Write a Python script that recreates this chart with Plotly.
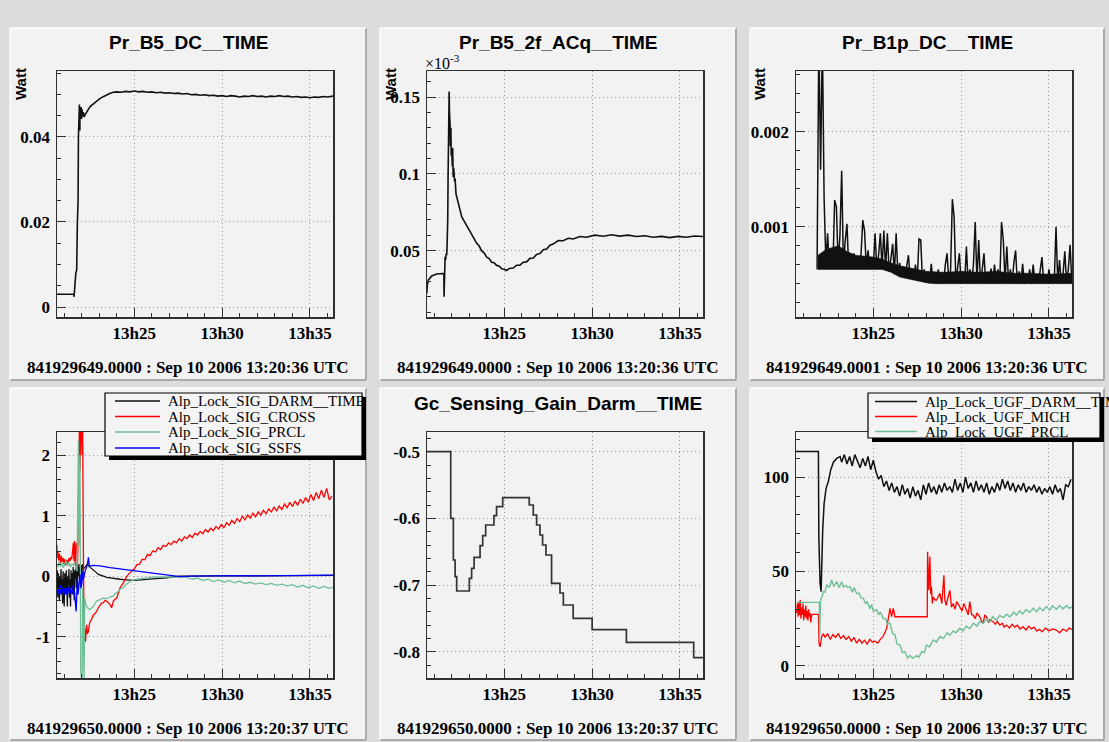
import plotly.graph_objects as go

# ---------------- data (time in minutes after 13:00) ----------------
TICK_PREFIX = "13h"
X_RANGE = [20.6, 36.31]

TITLES = ["Pr_B5_DC__TIME", "Pr_B5_2f_ACq__TIME", "Pr_B1p_DC__TIME",
          "", "Gc_Sensing_Gain_Darm__TIME", ""]
FOOTERS = ["841929649.0000 : Sep 10 2006 13:20:36 UTC",
           "841929649.0000 : Sep 10 2006 13:20:36 UTC",
           "841929649.0001 : Sep 10 2006 13:20:36 UTC",
           "841929650.0000 : Sep 10 2006 13:20:37 UTC",
           "841929650.0000 : Sep 10 2006 13:20:37 UTC",
           "841929650.0000 : Sep 10 2006 13:20:37 UTC"]
Y_UNIT = "Watt"

# Panel 1: Pr_B5_DC (Watt)
B5_DC = [(20.6, 0.003), (21.55, 0.003), (21.57, 0.0024), (21.6, 0.0055), (21.63, 0.0058),
         (21.68, 0.0082), (21.72, 0.0086), (21.76, 0.02), (21.8, 0.025), (21.82, 0.04),
         (21.85, 0.046), (21.875, 0.0476), (21.9, 0.0415), (21.91, 0.047), (21.94, 0.0445),
         (21.97, 0.047), (22.0, 0.0442), (22.03, 0.0465), (22.06, 0.0448), (22.1, 0.0458),
         (22.15, 0.0447), (22.2, 0.0452), (22.3, 0.046), (22.4, 0.0466), (22.5, 0.0472),
         (22.65, 0.0477), (22.8, 0.0484), (23.0, 0.0489), (23.2, 0.0494), (23.4, 0.0499),
         (23.6, 0.0502), (23.8, 0.0505), (24.0, 0.0506), (24.25, 0.0505), (24.5, 0.0507),
         (24.75, 0.0506), (25.0, 0.0508), (25.25, 0.0506), (25.5, 0.0507), (25.75, 0.0505),
         (26.0, 0.0506), (26.25, 0.0504), (26.5, 0.0505), (26.75, 0.0503), (27.0, 0.0504),
         (27.25, 0.0502), (27.5, 0.0503), (27.75, 0.0501), (28.0, 0.0502), (28.25, 0.0499),
         (28.5, 0.0500), (28.75, 0.0498), (29.0, 0.0499), (29.25, 0.0497), (29.5, 0.0498),
         (29.75, 0.0496), (30.0, 0.0497), (30.25, 0.0495), (30.5, 0.0497), (30.75, 0.0496),
         (31.0, 0.0494), (31.25, 0.0496), (31.5, 0.0495), (31.75, 0.0497), (32.0, 0.0495),
         (32.25, 0.0496), (32.5, 0.0494), (32.75, 0.0496), (33.0, 0.0495), (33.25, 0.0497),
         (33.5, 0.0495), (33.75, 0.0496), (34.0, 0.0494), (34.25, 0.0495), (34.5, 0.0493),
         (34.75, 0.0494), (35.0, 0.0492), (35.25, 0.0494), (35.5, 0.0493), (35.75, 0.0495),
         (36.0, 0.0494), (36.31, 0.0496)]

# Panel 2: Pr_B5_2f_ACq (x10^-3 Watt)
B5_2F = [(20.59, 0.0222), (20.62, 0.028), (20.68, 0.0309), (20.78, 0.0325), (20.87, 0.0335),
         (21.0, 0.0342), (21.16, 0.0348), (21.35, 0.035), (21.53, 0.0352), (21.56, 0.0352),
         (21.57, 0.020), (21.60, 0.030), (21.63, 0.046), (21.66, 0.044), (21.69, 0.048),
         (21.72, 0.047), (21.74, 0.0526), (21.78, 0.07), (21.80, 0.098), (21.83, 0.12),
         (21.86, 0.1537), (21.88, 0.14), (21.91, 0.133), (21.93, 0.118), (21.96, 0.13),
         (21.98, 0.112), (22.01, 0.115), (22.04, 0.105), (22.06, 0.117), (22.09, 0.098),
         (22.12, 0.104), (22.14, 0.1), (22.17, 0.095), (22.2, 0.097), (22.25, 0.087),
         (22.3, 0.085), (22.39, 0.080), (22.48, 0.0765), (22.58, 0.072), (22.7, 0.0695),
         (22.86, 0.0657), (23.0, 0.0632), (23.14, 0.0598), (23.28, 0.0578), (23.43, 0.0548),
         (23.57, 0.0530), (23.71, 0.0498), (23.86, 0.0484), (24.0, 0.0458), (24.14, 0.0449),
         (24.28, 0.0425), (24.42, 0.0421), (24.56, 0.0404), (24.7, 0.0401), (24.85, 0.0382),
         (25.0, 0.0379), (25.13, 0.0371), (25.32, 0.0386), (25.51, 0.0387), (25.7, 0.0405),
         (25.89, 0.0406), (26.08, 0.0425), (26.27, 0.0427), (26.46, 0.0450), (26.65, 0.0452),
         (26.84, 0.0476), (27.03, 0.0482), (27.22, 0.0506), (27.41, 0.0510), (27.6, 0.0536),
         (27.78, 0.0543), (28.07, 0.0566), (28.35, 0.0565), (28.64, 0.0581), (28.92, 0.0576),
         (29.3, 0.0592), (29.68, 0.0587), (30.15, 0.0601), (30.63, 0.0594), (31.1, 0.0604),
         (31.57, 0.0595), (32.05, 0.0601), (32.52, 0.0592), (33.0, 0.0597), (33.47, 0.0587),
         (33.94, 0.0593), (34.41, 0.0585), (34.9, 0.0593), (35.36, 0.0587), (35.83, 0.0595),
         (36.31, 0.0592)]

# Panel 3: Pr_B1p_DC (mW), one sample every 0.1 min from 21.8
B1P_T0, B1P_DT = 21.8, 0.1
B1P_MW = [0.55, 3.0, 1.6, 3.0, 1.3, 0.62, 0.93, 0.57, 0.75, 0.56,
          1.28, 1.21, 0.60, 0.90, 1.59, 0.58, 0.85, 1.03, 0.57, 0.68,
          0.56, 0.72, 0.57, 0.66, 0.56, 0.70, 1.07, 0.96, 0.58, 0.75,
          0.56, 0.68, 0.57, 0.93, 0.56, 0.70, 0.93, 0.56, 0.96, 0.55,
          0.93, 0.53, 0.66, 0.82, 0.50, 0.93, 0.49, 0.62, 0.47, 0.58,
          0.46, 0.60, 0.70, 0.45, 0.56, 0.44, 0.60, 0.43, 0.87, 0.86,
          0.42, 0.55, 0.41, 0.52, 0.40, 0.61, 0.41, 0.50, 0.40, 0.55,
          0.40, 0.52, 0.41, 0.60, 0.72, 0.41, 0.55, 1.29, 1.10, 0.42,
          0.55, 0.72, 0.40, 0.52, 0.41, 0.79, 0.40, 0.55, 0.41, 0.60,
          1.05, 0.42, 0.86, 0.41, 0.55, 0.72, 0.40, 0.52, 0.41, 0.56,
          0.40, 0.60, 0.41, 0.55, 0.42, 1.05, 0.86, 0.42, 0.79, 0.41,
          0.55, 0.40, 0.62, 0.75, 0.40, 0.53, 0.41, 0.61, 0.40, 0.50,
          0.41, 0.55, 0.40, 0.60, 0.41, 0.50, 0.40, 0.52, 0.68, 0.41,
          0.50, 0.40, 0.55, 0.41, 0.50, 0.42, 1.00, 0.41, 0.65, 0.40,
          0.50, 0.74, 0.41, 0.55, 0.81, 0.42]
# dense noise band of the same signal (lower / upper envelope, mW)
B1P_BAND_LOW = [(21.85, 0.55), (22.3, 0.55), (25.5, 0.55), (26.0, 0.52), (26.5, 0.47), (27.0, 0.45),
                (27.5, 0.43), (28.0, 0.41), (28.5, 0.40), (36.31, 0.40)]
B1P_BAND_HIGH = [(21.85, 0.70), (22.3, 0.76), (23.0, 0.80), (23.5, 0.74), (24.0, 0.70), (25.0, 0.68),
                 (25.5, 0.66), (26.0, 0.62), (26.5, 0.59), (27.0, 0.57), (27.5, 0.55), (28.0, 0.53),
                 (29.0, 0.52), (30.0, 0.53), (31.0, 0.52), (32.0, 0.53), (33.0, 0.51), (34.0, 0.51),
                 (35.0, 0.50), (36.31, 0.51)]

# Panel 4: Alp_Lock_SIG_*
SIG_NAMES = ["Alp_Lock_SIG_DARM__TIME", "Alp_Lock_SIG_CROSS", "Alp_Lock_SIG_PRCL", "Alp_Lock_SIG_SSFS"]
SIG_DARM = [(20.59, -0.1), (20.62, 0.1), (20.65, -0.35), (20.68, 0.05), (20.71, -0.2), (20.74, -0.4),
            (20.77, 0.0), (20.80, -0.15), (20.83, 0.12), (20.86, -0.3), (20.89, -0.05), (20.92, -0.45),
            (20.95, 0.08), (20.98, -0.2), (21.01, -0.5), (21.04, 0.05), (21.07, -0.12), (21.10, -0.3),
            (21.13, 0.1), (21.16, -0.25), (21.19, -0.5), (21.22, 0.0), (21.25, -0.15), (21.28, 0.12),
            (21.31, -0.35), (21.34, -0.05), (21.37, -0.5), (21.40, 0.1), (21.43, -0.2), (21.46, 0.05),
            (21.49, -0.3), (21.52, 0.15), (21.55, -0.1), (21.58, -0.4), (21.61, 0.1), (21.64, -0.05),
            (21.67, 0.2), (21.70, -0.2), (21.73, 0.15), (21.76, -0.1), (21.79, 0.18), (21.82, 0.0),
            (21.85, 0.2), (21.88, -0.05), (21.91, 0.15), (21.94, 0.05), (21.97, 0.18), (22.0, -0.1),
            (22.05, 0.2), (22.1, 0.12), (22.2, 0.15), (22.29, 0.19), (22.33, 0.2), (22.39, 0.17),
            (22.48, 0.15), (22.58, 0.13), (22.67, 0.1), (22.76, 0.08), (22.86, 0.055), (22.95, 0.03),
            (23.05, 0.015), (23.24, 0.0), (23.43, -0.02), (23.62, -0.03), (23.81, -0.04), (24.0, -0.045),
            (24.19, -0.05), (24.38, -0.055), (24.56, -0.06), (24.75, -0.065), (24.94, -0.07), (25.2, -0.065),
            (25.5, -0.055), (25.8, -0.045), (26.1, -0.04), (26.4, -0.035), (26.7, -0.03), (27.0, -0.02),
            (27.3, -0.01), (27.6, 0.0), (28.0, 0.0), (29.0, 0.005), (30.0, 0.0), (31.0, 0.01),
            (32.0, 0.005), (33.0, 0.01), (34.0, 0.005), (35.0, 0.01), (36.31, 0.015)]
SIG_CROSS_EARLY = [(20.59, 0.52), (20.62, 0.30), (20.66, 0.40), (20.70, 0.26), (20.75, 0.37), (20.80, 0.22),
                   (20.85, 0.33), (20.90, 0.24), (20.95, 0.30), (21.00, 0.20), (21.05, 0.28), (21.10, 0.18),
                   (21.16, 0.27), (21.22, 0.21), (21.28, 0.30), (21.34, 0.25), (21.40, 0.32), (21.44, 0.28),
                   (21.50, 0.45), (21.53, 0.55), (21.57, 0.25), (21.60, 0.58), (21.63, 0.19), (21.67, 0.50),
                   (21.72, 0.55), (21.76, 0.14), (21.80, 0.6), (21.84, 1.5), (21.875, 2.5), (21.91, 1.74),
                   (21.95, 2.5), (21.99, 2.45), (22.03, 2.0), (22.06, 2.5), (22.10, 0.5), (22.14, -0.91),
                   (22.18, -0.85), (22.22, -1.08), (22.26, -0.9), (22.29, -0.8), (22.33, -0.95), (22.39, -0.91),
                   (22.44, -0.8), (22.48, -0.75), (22.55, -0.72), (22.62, -0.66), (22.67, -0.64), (22.75, -0.62),
                   (22.86, -0.58), (22.95, -0.52), (23.05, -0.47), (23.15, -0.44), (23.24, -0.44), (23.33, -0.40),
                   (23.43, -0.41), (23.52, -0.44), (23.62, -0.47), (23.71, -0.52), (23.76, -0.45), (23.81, -0.41),
                   (23.90, -0.38), (24.0, -0.36), (24.09, -0.28), (24.19, -0.19), (24.28, -0.15), (24.38, -0.11),
                   (24.47, -0.05), (24.56, 0.0), (24.66, 0.03), (24.75, 0.055), (24.85, 0.09), (24.94, 0.11)]
SIG_CROSS_T0, SIG_CROSS_DT = 25.0, 0.15
SIG_CROSS_LATE = [0.12, 0.19, 0.20, 0.28, 0.27, 0.36, 0.34, 0.42, 0.40, 0.47,
                  0.44, 0.51, 0.49, 0.55, 0.52, 0.58, 0.55, 0.62, 0.58, 0.65,
                  0.62, 0.68, 0.64, 0.71, 0.68, 0.74, 0.70, 0.77, 0.73, 0.79,
                  0.75, 0.82, 0.78, 0.85, 0.80, 0.88, 0.84, 0.92, 0.87, 0.95,
                  0.90, 0.99, 0.93, 1.01, 0.96, 1.04, 0.98, 1.06, 1.01, 1.09,
                  1.03, 1.11, 1.06, 1.14, 1.08, 1.16, 1.10, 1.19, 1.13, 1.22,
                  1.15, 1.24, 1.17, 1.27, 1.20, 1.30, 1.22, 1.35, 1.25, 1.38,
                  1.28, 1.42, 1.30, 1.45, 1.26, 1.32]
SIG_PRCL = [(20.59, 0.2), (20.65, 0.15), (20.72, 0.24), (20.8, 0.16), (20.88, 0.22), (20.96, 0.14),
            (21.04, 0.2), (21.12, 0.25), (21.2, 0.17), (21.28, 0.22), (21.36, 0.15), (21.44, 0.2),
            (21.52, 0.18), (21.6, 0.22), (21.68, 0.12), (21.74, 0.08), (21.78, 1.2), (21.8, 1.6),
            (21.82, 2.24), (21.85, 0.5), (21.875, 1.19), (21.91, 2.0), (21.95, -1.57), (21.99, -1.75),
            (22.03, -1.75), (22.06, -0.19), (22.1, -1.0), (22.14, -1.75), (22.18, -0.36), (22.25, -0.47),
            (22.33, -0.52), (22.48, -0.55), (22.58, -0.52), (22.67, -0.5), (22.76, -0.45), (22.86, -0.41),
            (22.95, -0.40), (23.05, -0.39), (23.15, -0.37), (23.24, -0.36), (23.33, -0.37), (23.52, -0.36),
            (23.62, -0.34), (23.81, -0.33), (23.9, -0.29), (24.1, -0.25), (24.2, -0.21), (24.38, -0.19),
            (24.47, -0.15), (24.66, -0.11), (24.8, -0.08), (25.0, -0.055), (25.3, -0.04), (25.5, -0.03),
            (26.0, -0.015), (26.3, -0.01), (27.0, -0.01), (27.4, -0.01), (28.0, -0.02), (28.3, -0.05),
            (28.6, -0.03), (28.9, -0.07), (29.2, -0.05), (29.5, -0.09), (29.8, -0.06), (30.1, -0.1),
            (30.4, -0.07), (30.7, -0.11), (31.0, -0.08), (31.3, -0.12), (31.6, -0.1), (31.9, -0.13),
            (32.2, -0.11), (32.5, -0.14), (32.8, -0.12), (33.1, -0.15), (33.4, -0.13), (33.7, -0.16),
            (34.0, -0.14), (34.3, -0.18), (34.6, -0.15), (34.9, -0.19), (35.2, -0.16), (35.5, -0.2),
            (35.8, -0.17), (36.1, -0.2), (36.31, -0.18)]
SIG_SSFS = [(20.59, -0.25), (20.63, -0.18), (20.67, -0.3), (20.71, -0.2), (20.75, -0.28), (20.79, -0.15),
            (20.83, -0.3), (20.87, -0.22), (20.91, -0.27), (20.95, -0.18), (20.99, -0.32), (21.03, -0.2),
            (21.07, -0.26), (21.11, -0.19), (21.15, -0.3), (21.19, -0.22), (21.23, -0.28), (21.27, -0.17),
            (21.31, -0.25), (21.35, -0.2), (21.39, -0.3), (21.43, -0.22), (21.47, -0.27), (21.51, -0.15),
            (21.55, -0.3), (21.6, -0.25), (21.65, -0.45), (21.69, -0.58), (21.72, -0.36), (21.76, -0.03),
            (21.8, -0.3), (21.85, -0.19), (21.91, 0.03), (21.96, -0.2), (22.01, -0.14), (22.06, 0.08),
            (22.1, -0.05), (22.2, 0.08), (22.29, 0.15), (22.33, 0.19), (22.39, 0.31), (22.41, 0.22),
            (22.44, 0.17), (22.67, 0.18), (23.05, 0.17), (23.62, 0.14), (24.19, 0.12), (24.94, 0.094),
            (25.7, 0.066), (26.46, 0.04), (27.03, 0.011), (27.6, -0.006), (28.2, 0.0), (29.0, 0.005),
            (30.0, 0.0), (31.0, 0.01), (32.0, 0.005), (33.0, 0.012), (34.0, 0.008), (35.0, 0.015),
            (36.31, 0.017)]

# Panel 5: Gc_Sensing_Gain_Darm (step values)
GAIN_DARM = [(20.59, -0.5), (21.95, -0.6), (22.10, -0.6625), (22.20, -0.6875), (22.29, -0.709),
             (23.01, -0.69), (23.14, -0.675), (23.28, -0.6585), (23.62, -0.641), (23.77, -0.626),
             (23.94, -0.61), (24.41, -0.596), (24.56, -0.5825), (24.91, -0.569), (26.42, -0.58),
             (26.65, -0.595), (26.84, -0.61), (27.03, -0.625), (27.18, -0.64), (27.37, -0.655),
             (27.69, -0.6975), (28.17, -0.712), (28.36, -0.73), (28.92, -0.75), (30.0, -0.767),
             (31.95, -0.786), (35.78, -0.809), (36.31, -0.809)]

# Panel 6: Alp_Lock_UGF_*
UGF_NAMES = ["Alp_Lock_UGF_DARM__TIME", "Alp_Lock_UGF_MICH", "Alp_Lock_UGF_PRCL"]
UGF_DARM_EARLY = [(20.6, 113.6), (21.875, 113.6), (21.9, 68.5), (21.97, 43.7), (22.03, 39.3),
                  (22.06, 50.8), (22.12, 72), (22.2, 86), (22.31, 94), (22.44, 97.7), (22.58, 104),
                  (22.73, 108), (22.92, 110), (23.11, 111)]
UGF_DARM_T0, UGF_DARM_DT = 23.2, 0.15
UGF_DARM_LATE = [108, 112, 107, 111, 106, 112, 108, 105, 110, 106,
                 111, 104, 109, 103, 99, 101, 95, 98, 93, 97,
                 92, 95, 90, 96, 91, 94, 89, 95, 90, 93,
                 88, 96, 91, 97, 92, 95, 91, 96, 92, 97,
                 93, 95, 92, 99, 93, 97, 92, 100, 94, 97,
                 92, 98, 93, 96, 92, 97, 91, 95, 92, 97,
                 93, 99, 94, 98, 93, 97, 92, 96, 93, 97,
                 92, 95, 93, 96, 92, 95, 91, 94, 92, 95,
                 91, 96, 92, 94, 88, 96, 95, 99]
UGF_MICH = [(20.64, 28), (20.68, 33), (20.72, 26), (20.76, 34), (20.80, 27), (20.84, 35), (20.88, 25),
            (20.92, 31), (20.96, 27), (21.0, 33), (21.04, 24), (21.08, 30), (21.12, 26), (21.16, 32),
            (21.2, 25), (21.24, 29), (21.28, 24), (21.32, 30), (21.36, 26), (21.40, 28), (21.44, 23),
            (21.48, 27), (21.5, 27.3), (21.875, 27.3), (21.91, 11.9), (21.97, 10), (22.06, 15.4),
            (22.16, 17), (22.25, 15), (22.40, 17), (22.55, 14), (22.70, 16.5), (22.85, 15), (23.00, 17),
            (23.15, 14.5), (23.30, 16), (23.45, 14), (23.60, 15.5), (23.75, 13), (23.90, 15), (24.05, 12),
            (24.20, 14), (24.35, 12), (24.50, 13.5), (24.65, 11.5), (24.80, 14), (24.95, 12.5), (25.10, 13),
            (25.25, 12), (25.40, 14), (25.55, 15.4), (25.76, 19.8), (25.95, 30.4), (26.04, 26),
            (26.14, 30.4), (26.23, 26), (26.33, 26), (28.07, 26), (28.09, 60.5), (28.16, 40),
            (28.22, 57.9), (28.27, 38), (28.31, 42), (28.36, 33), (28.41, 36.6), (28.5, 35),
            (28.6, 34.9), (28.7, 37), (28.79, 38.4), (28.9, 33), (29.02, 48), (29.07, 34.9), (29.15, 32),
            (29.26, 36.6), (29.36, 40), (29.45, 31), (29.55, 33), (29.65, 30), (29.75, 34), (29.92, 31.3),
            (30.05, 29), (30.15, 33), (30.30, 29.6), (30.4, 27), (30.49, 34), (30.6, 27), (30.68, 27),
            (30.8, 25), (30.9, 28), (31.06, 26), (31.15, 24), (31.25, 22.5), (31.35, 27), (31.44, 26),
            (31.55, 23), (31.63, 24.5), (31.82, 23.4), (31.95, 22), (32.05, 23.5), (32.20, 21.6),
            (32.35, 22.5), (32.45, 20.5), (32.58, 21.6), (32.75, 20), (32.9, 22), (33.05, 20.5),
            (33.2, 21.5), (33.35, 19.5), (33.52, 20.7), (33.7, 19), (33.85, 21), (34.0, 19.5),
            (34.15, 20.5), (34.3, 18.5), (34.47, 19.3), (34.6, 18), (34.8, 20), (35.0, 18.5),
            (35.2, 19.5), (35.42, 18.9), (35.6, 17.5), (35.8, 19.5), (36.0, 18.3), (36.15, 20), (36.3, 19.3)]
UGF_PRCL = [(20.64, 33.6), (21.93, 33.6), (21.94, 13.3), (21.96, 30), (22.0, 35), (22.1, 37),
            (22.16, 39.5), (22.25, 39), (22.35, 43), (22.5, 41.5), (22.63, 45.5), (22.75, 42),
            (22.92, 44.7), (23.05, 41.5), (23.2, 44.5), (23.3, 41.8), (23.45, 42.5), (23.55, 41.5),
            (23.67, 42), (23.8, 39), (23.9, 41.5), (24.05, 38.3), (24.2, 38.5), (24.3, 36),
            (24.43, 35.9), (24.55, 33), (24.65, 34), (24.81, 30.3), (24.9, 32.5), (25.0, 29),
            (25.19, 29.7), (25.3, 27), (25.4, 28.5), (25.57, 25), (25.7, 25), (25.8, 22),
            (25.95, 22.6), (26.1, 17), (26.23, 16.4), (26.35, 11.5), (26.52, 11), (26.65, 7),
            (26.8, 7.5), (26.95, 4), (27.08, 5.4), (27.25, 4), (27.46, 5.4), (27.6, 4.5),
            (27.75, 7.5), (27.9, 7), (28.03, 11), (28.2, 10), (28.41, 13.7), (28.6, 12.5),
            (28.79, 15.5), (29.0, 14.5), (29.2, 17.5), (29.36, 16.2), (29.55, 18.5), (29.7, 17.5),
            (29.92, 19.9), (30.1, 18.5), (30.3, 21), (30.49, 19.7), (30.7, 22.5), (30.9, 21),
            (31.06, 23.5), (31.25, 22.5), (31.44, 24.8), (31.63, 23.2), (31.8, 26), (32.0, 24.2),
            (32.2, 26.7), (32.4, 25.5), (32.58, 27.3), (32.77, 25.9), (33.0, 28.5), (33.15, 26.8),
            (33.33, 29.1), (33.5, 27.5), (33.7, 29.8), (33.9, 28.2), (34.1, 30.5), (34.3, 28.7),
            (34.47, 30.9), (34.65, 29.2), (34.85, 31.4), (35.04, 29.5), (35.2, 31.8), (35.42, 30),
            (35.6, 31.8), (35.8, 30.2), (36.0, 32), (36.15, 30.5), (36.3, 31.3)]

# y-axis setups (range, tick values, tick texts, minor step)
Y_AXES = [
    dict(range=[-0.00235, 0.0555], tickvals=[0, 0.02, 0.04], ticktext=["0", "0.02", "0.04"], minor=0.005),
    dict(range=[0.0068, 0.167], tickvals=[0.05, 0.1, 0.15], ticktext=["0.05", "0.1", "0.15"], minor=0.01),
    dict(range=[0.000049, 0.00264], tickvals=[0.001, 0.002], ticktext=["0.001", "0.002"], minor=0.0002),
    dict(range=[-1.68, 2.38], tickvals=[-1, 0, 1, 2], ticktext=["-1", "0", "1", "2"], minor=0.2),
    dict(range=[-0.8395, -0.4705], tickvals=[-0.8, -0.7, -0.6, -0.5],
         ticktext=["-0.8", "-0.7", "-0.6", "-0.5"], minor=0.02),
    dict(range=[-6.5, 124], tickvals=[0, 50, 100], ticktext=["0", "50", "100"], minor=10),
]

# ---------------- layout geometry (pixels) ----------------
W, H = 1109, 742
def px(x):
    return x / W
def py(y):
    return 1 - y / H

COLS = [(57, 333), (427, 703), (796, 1072)]
ROWS = [(71, 317), (432, 678)]
PANEL_X = [(10, 366), (380, 736), (750, 1104)]
PANEL_Y = [(28, 380), (388, 740)]
TITLE_Y = [43, 403]
FOOT_Y = [367, 728]

BLACK = "#111111"
RED = "#ff0000"
GREEN = "#6fbf96"
BLUE = "#0000ff"

fig = go.Figure()

def unzip(pairs):
    return [p[0] for p in pairs], [p[1] for p in pairs]

def grid_times(t0, dt, n):
    return [round(t0 + dt * i, 3) for i in range(n)]

def axn(k):
    return "" if k == 1 else str(k)

def add(k, x, y, color, width=1.3, shape="linear", **kw):
    fig.add_trace(go.Scatter(x=x, y=y, mode="lines", xaxis="x" + axn(k), yaxis="y" + axn(k),
                             line=dict(color=color, width=width, shape=shape),
                             showlegend=False, hoverinfo="skip", **kw))

t, v = unzip(B5_DC); add(1, t, v, BLACK, 1.6)
t, v = unzip(B5_2F); add(2, t, v, BLACK, 1.6)
# panel 3: noise band (filled between envelopes) + sample trace
tl, vl = unzip(B1P_BAND_LOW)
th, vh = unzip(B1P_BAND_HIGH)
add(3, tl + th[::-1], [m * 1e-3 for m in vl + vh[::-1]], BLACK, 0.5, fill="toself", fillcolor=BLACK)
add(3, grid_times(B1P_T0, B1P_DT, len(B1P_MW)), [m * 1e-3 for m in B1P_MW], BLACK, 1.5)

t, v = unzip(SIG_DARM); add(4, t, v, BLACK, 1.3)
t, v = unzip(SIG_CROSS_EARLY)
add(4, t + grid_times(SIG_CROSS_T0, SIG_CROSS_DT, len(SIG_CROSS_LATE)), v + SIG_CROSS_LATE, RED, 1.3)
t, v = unzip(SIG_PRCL); add(4, t, v, GREEN, 1.3)
t, v = unzip(SIG_SSFS); add(4, t, v, BLUE, 1.3)

t, v = unzip(GAIN_DARM); add(5, t, v, "#333333", 1.7, "hv")

t, v = unzip(UGF_DARM_EARLY)
add(6, t + grid_times(UGF_DARM_T0, UGF_DARM_DT, len(UGF_DARM_LATE)), v + UGF_DARM_LATE, BLACK, 1.5)
t, v = unzip(UGF_MICH); add(6, t, v, RED, 1.3)
t, v = unzip(UGF_PRCL); add(6, t, v, GREEN, 1.4)

AXC = "#303030"
GRIDC = "#9a9a9a"
tickfont = dict(family="Liberation Serif", size=17, color="black", weight="bold")
layout = dict(width=W, height=H, margin=dict(l=0, r=0, t=0, b=0), autosize=False,
              paper_bgcolor="#dcdcdc", plot_bgcolor="rgba(0,0,0,0)", showlegend=False)

for k in range(1, 7):
    r, c = (k - 1) // 3, (k - 1) % 3
    sx = axn(k)
    ya = Y_AXES[k - 1]
    layout["xaxis" + sx] = dict(
        domain=[px(COLS[c][0]), px(COLS[c][1])], anchor="y" + sx, range=X_RANGE,
        tickmode="linear", tick0=0, dtick=5, tickprefix=TICK_PREFIX,
        ticks="inside", ticklen=9, tickwidth=1, tickcolor=AXC,
        showline=True, linecolor=AXC, linewidth=1.5, mirror=True,
        showgrid=True, gridcolor=GRIDC, griddash="1px,3px", gridwidth=1, zeroline=False,
        minor=dict(tickmode="linear", tick0=0, dtick=1, ticks="inside", ticklen=4,
                   tickwidth=1, tickcolor=AXC, showgrid=False),
        tickfont=tickfont, fixedrange=True)
    layout["yaxis" + sx] = dict(
        domain=[py(ROWS[r][1]), py(ROWS[r][0])], anchor="x" + sx, range=ya["range"],
        tickmode="array", tickvals=ya["tickvals"], ticktext=ya["ticktext"],
        ticks="inside", ticklen=9, tickwidth=1, tickcolor=AXC,
        showline=True, linecolor=AXC, linewidth=1.5, mirror=True,
        showgrid=True, gridcolor=GRIDC, griddash="1px,3px", gridwidth=1, zeroline=False,
        minor=dict(tickmode="linear", tick0=0, dtick=ya["minor"], ticks="inside", ticklen=4,
                   tickwidth=1, tickcolor=AXC, showgrid=False),
        tickfont=tickfont, ticklabelstandoff=2, fixedrange=True)

shapes = []
annotations = []
for k in range(6):
    r, c = k // 3, k % 3
    x0, x1 = PANEL_X[c]
    y0, y1 = PANEL_Y[r]
    shapes.append(dict(type="rect", xref="paper", yref="paper", layer="below",
                       x0=px(x0), x1=px(x1), y0=py(y1), y1=py(y0),
                       fillcolor="#f2f2f2", line=dict(width=0)))
    shapes.append(dict(type="line", xref="paper", yref="paper", layer="below",
                       x0=px(x1), x1=px(x1), y0=py(y1), y1=py(y0), line=dict(color="#aaaaaa", width=2)))
    shapes.append(dict(type="line", xref="paper", yref="paper", layer="below",
                       x0=px(x0), x1=px(x1), y0=py(y1), y1=py(y1), line=dict(color="#aaaaaa", width=2)))
    shapes.append(dict(type="line", xref="paper", yref="paper", layer="below",
                       x0=px(x0), x1=px(x0), y0=py(y1), y1=py(y0), line=dict(color="#fbfbfb", width=1.5)))
    shapes.append(dict(type="line", xref="paper", yref="paper", layer="below",
                       x0=px(x0), x1=px(x1), y0=py(y0), y1=py(y0), line=dict(color="#fbfbfb", width=1.5)))
    cx = (x0 + x1) / 2
    if TITLES[k]:
        annotations.append(dict(xref="paper", yref="paper", x=px(cx), y=py(TITLE_Y[r]),
                                text=TITLES[k], showarrow=False, xanchor="center", yanchor="middle",
                                font=dict(family="Liberation Sans", size=19, color="black", weight="bold")))
    annotations.append(dict(xref="paper", yref="paper", x=px(cx), y=py(FOOT_Y[r]),
                            text=FOOTERS[k], showarrow=False, xanchor="center", yanchor="middle",
                            font=dict(family="Liberation Serif", size=17, color="black", weight="bold")))
    if r == 0:
        annotations.append(dict(xref="paper", yref="paper", x=px(COLS[c][0] - 37), y=py(66),
                                text=Y_UNIT, showarrow=False, textangle=-90,
                                xanchor="center", yanchor="top",
                                font=dict(family="Liberation Sans", size=15, color="black", weight="bold")))

annotations.append(dict(xref="paper", yref="paper", x=px(423), y=py(74), text="×10<sup>-3</sup>",
                        showarrow=False, xanchor="left", yanchor="bottom",
                        font=dict(family="Liberation Serif", size=16, color="black")))

# legend boxes (drawn by hand, ROOT style with shadow)
def legend_box(x0, x1, y0, y1, names, colors, rows_y, lx0, lx1, tx):
    shapes.append(dict(type="rect", xref="paper", yref="paper", layer="above",
                       x0=px(x0 + 4), x1=px(x1 + 4), y0=py(y1 + 4), y1=py(y0 + 4),
                       fillcolor="black", line=dict(width=0)))
    shapes.append(dict(type="rect", xref="paper", yref="paper", layer="above",
                       x0=px(x0), x1=px(x1), y0=py(y1), y1=py(y0),
                       fillcolor="#f4f4f4", line=dict(color="black", width=1.2)))
    for name, col, ry in zip(names, colors, rows_y):
        shapes.append(dict(type="line", xref="paper", yref="paper", layer="above",
                           x0=px(lx0), x1=px(lx1), y0=py(ry), y1=py(ry),
                           line=dict(color=col, width=1.3)))
        annotations.append(dict(xref="paper", yref="paper", x=px(tx), y=py(ry), text=name,
                                showarrow=False, xanchor="left", yanchor="middle",
                                font=dict(family="Liberation Serif", size=15, color="black")))

legend_box(105, 362, 393, 456, SIG_NAMES, [BLACK, RED, GREEN, BLUE],
           [401, 416.5, 432, 448], 115, 160, 166)
legend_box(868, 1100, 393, 438, UGF_NAMES, [BLACK, RED, GREEN],
           [401.5, 416.5, 431.5], 875, 917, 923)

layout["shapes"] = shapes
layout["annotations"] = annotations
fig.update_layout(**layout)
fig.write_html("out.html", config={"displayModeBar": False, "staticPlot": True})
